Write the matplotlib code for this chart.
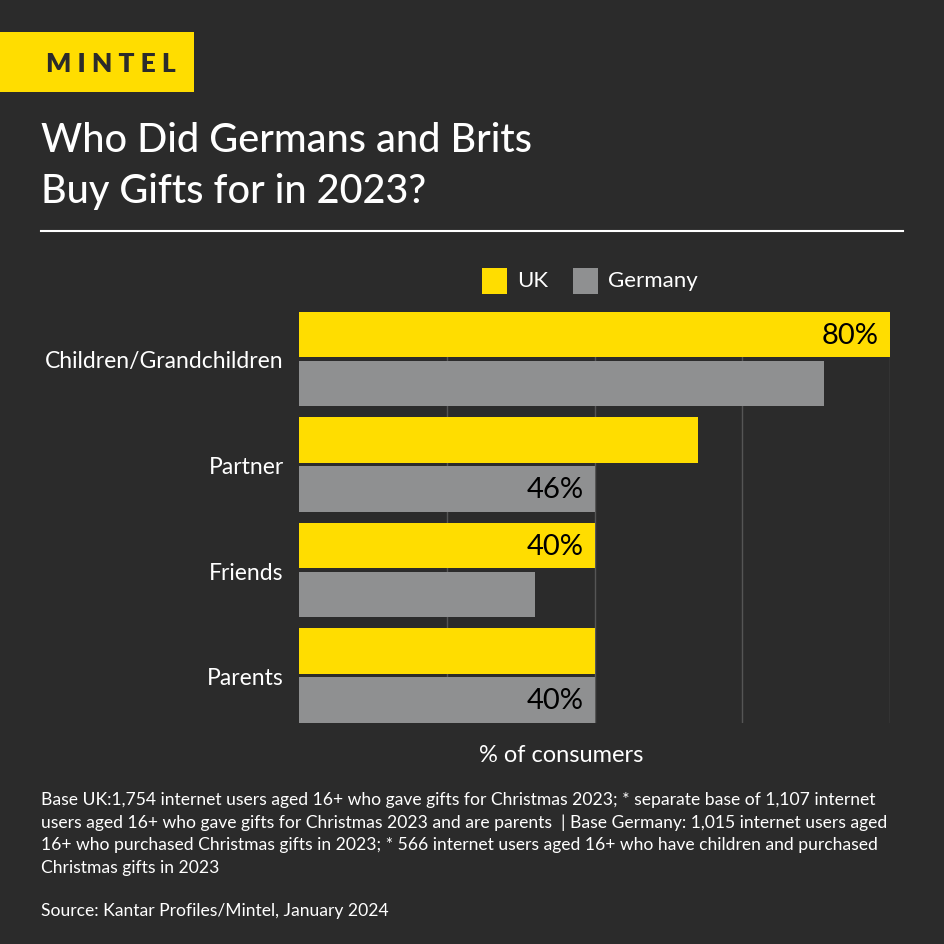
import numpy as np
import matplotlib.pyplot as plt
from matplotlib.patches import Rectangle

plt.rcParams['font.family'] = ['Lato', 'DejaVu Sans']

BG = '#2b2b2b'
YELLOW = '#ffdd00'
GREY = '#8f9091'

categories = ['Children/Grandchildren', 'Partner', 'Friends', 'Parents']
uk = [80, 54, 40, 40]
germany = [71, 40, 32, 40]
# labels as printed on the original chart
uk_labels = ['80%', '', '40%', '']
germany_labels = ['', '46%', '', '40%']

footnote = [
    "Base UK:1,754 internet users aged 16+ who gave gifts for Christmas 2023; * separate base of 1,107 internet",
    "users aged 16+ who gave gifts for Christmas 2023 and are parents  | Base Germany: 1,015 internet users aged",
    "16+ who purchased Christmas gifts in 2023; * 566 internet users aged 16+ who have children and purchased",
    "Christmas gifts in 2023",
]
source = "Source: Kantar Profiles/Mintel, January 2024"

W = H = 945
fig = plt.figure(figsize=(9.45, 9.45), dpi=100, facecolor=BG)


def fx(px):
    return px / W


def fy(py):
    return 1 - py / H


# logo
fig.patches.append(Rectangle((0, fy(93)), fx(194), fy(33) - fy(93), transform=fig.transFigure,
                             facecolor=YELLOW, edgecolor='none'))
fig.text(fx(111), fy(64), 'M I N T E L', color=BG, fontsize=19, fontweight='heavy',
         ha='center', va='center')

# title
fig.text(fx(41), fy(141), 'Who Did Germans and Brits', color='white', fontsize=28.5,
         fontweight='medium', ha='left', va='center')
fig.text(fx(41), fy(191), 'Buy Gifts for in 2023?', color='white', fontsize=28.5,
         fontweight='medium', ha='left', va='center')
fig.add_artist(plt.Line2D([fx(41), fx(903)], [fy(232), fy(232)], transform=fig.transFigure,
                          color='white', lw=1.5))

# legend
for x0, col, lab in [(482, YELLOW, 'UK'), (573, GREY, 'Germany')]:
    fig.patches.append(Rectangle((fx(x0), fy(295)), fx(25), fy(269) - fy(295),
                                 transform=fig.transFigure, facecolor=col, edgecolor='none'))
    fig.text(fx(x0 + 35), fy(281), lab, color='white', fontsize=16, ha='left', va='center')

# chart
ax = fig.add_axes([fx(299), fy(724), fx(890) - fx(299), fy(312.7) - fy(724)])
ax.set_facecolor(BG)
y = np.arange(len(categories))
h = 0.432
off = 0.231
ax.barh(y - off, uk, height=h, color=YELLOW, zorder=3)
ax.barh(y + off, germany, height=h, color=GREY, zorder=3)

for i in range(len(categories)):
    if uk_labels[i]:
        ax.text(uk[i] - 1.5, y[i] - off, uk_labels[i], color='black', fontsize=21,
                ha='right', va='center', zorder=4)
    if germany_labels[i]:
        ax.text(germany[i] - 1.5, y[i] + off, germany_labels[i], color='black', fontsize=21,
                ha='right', va='center', zorder=4)

ax.set_xlim(0, 80)
ax.set_ylim(3.45, -0.448)
ax.set_xticks([20, 40, 60, 80])
ax.set_xticklabels([])
ax.grid(axis='x', color='#555555', lw=1, zorder=0)
ax.set_yticks(y)
ax.set_yticklabels(categories, color='white', fontsize=16.5)
ax.tick_params(length=0, pad=11)
for s in ax.spines.values():
    s.set_visible(False)

fig.text(fx(561), fy(756), '% of consumers', color='white', fontsize=17, ha='center', va='center')

for i, line in enumerate(footnote):
    fig.text(fx(41), fy(800 + 22.7 * i), line, color='white', fontsize=12.6, ha='left', va='center')
fig.text(fx(41), fy(911), source, color='white', fontsize=12.6, ha='left', va='center')

fig.savefig('out.png', dpi=100, facecolor=BG)
